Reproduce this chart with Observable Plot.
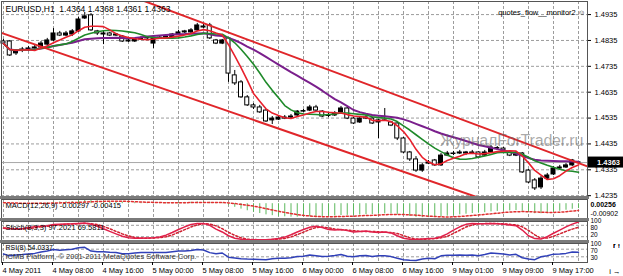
<!DOCTYPE html>
<html><head><meta charset="utf-8">
<script src="https://cdn.jsdelivr.net/npm/d3@7"></script>
<script src="https://cdn.jsdelivr.net/npm/@observablehq/plot@0.6"></script>
<style>
body{margin:0;background:#fff;}
#chart{position:relative;width:623px;height:276px;overflow:hidden;background:#fff;font-family:"Liberation Sans",Arial,sans-serif;}
#chart svg{position:absolute;left:0;}
.sep{position:absolute;left:0;width:589px;background:#7a7a7a;}
.wm{position:absolute;left:440px;top:132px;font-size:16px;color:rgba(95,95,95,0.55);white-space:nowrap;letter-spacing:-0.2px;}
</style></head><body><div id="chart"></div>
<script>
// ---- candles (EURUSD H1, 4 May 2011 00:00 ... 9 May 2011) ----
const open = [1.4831,1.4831,1.4785,1.4796,1.4800,1.4804,1.4808,1.4819,1.4835,1.4862,1.4854,1.4858,1.4870,1.4920,1.4932,1.4870,1.4858,1.4862,1.4858,1.4850,1.4835,1.4831,1.4839,1.4843,1.4823,1.4843,1.4850,1.4846,1.4858,1.4870,1.4866,1.4874,1.4889,1.4893,1.4835,1.4823,1.4843,1.4700,1.4673,1.4615,1.4584,1.4576,1.4564,1.4526,1.4529,1.4537,1.4537,1.4545,1.4560,1.4564,1.4576,1.4560,1.4545,1.4545,1.4557,1.4572,1.4533,1.4518,1.4533,1.4533,1.4518,1.4526,1.4518,1.4514,1.4456,1.4402,1.4375,1.4332,1.4359,1.4371,1.4352,1.4390,1.4398,1.4398,1.4402,1.4398,1.4402,1.4390,1.4402,1.4417,1.4417,1.4402,1.4390,1.4398,1.4332,1.4294,1.4267,1.4301,1.4317,1.4340,1.4344,1.4352,1.4364];
const high = [1.4839,1.4835,1.4800,1.4808,1.4812,1.4816,1.4831,1.4843,1.4881,1.4870,1.4870,1.4877,1.4924,1.4943,1.4939,1.4874,1.4870,1.4866,1.4862,1.4854,1.4843,1.4843,1.4850,1.4850,1.4846,1.4854,1.4854,1.4862,1.4874,1.4874,1.4881,1.4901,1.4897,1.4901,1.4839,1.4839,1.4846,1.4719,1.4680,1.4622,1.4591,1.4584,1.4568,1.4541,1.4541,1.4545,1.4549,1.4564,1.4568,1.4584,1.4584,1.4564,1.4553,1.4560,1.4580,1.4576,1.4537,1.4537,1.4545,1.4537,1.4529,1.4572,1.4522,1.4518,1.4460,1.4406,1.4386,1.4359,1.4371,1.4375,1.4398,1.4406,1.4406,1.4410,1.4406,1.4410,1.4404,1.4410,1.4429,1.4425,1.4421,1.4406,1.4406,1.4402,1.4336,1.4301,1.4309,1.4321,1.4348,1.4352,1.4359,1.4375,1.4368];
const low = [1.4819,1.4773,1.4777,1.4788,1.4792,1.4796,1.4804,1.4808,1.4831,1.4850,1.4850,1.4850,1.4866,1.4916,1.4870,1.4854,1.4819,1.4850,1.4850,1.4827,1.4827,1.4827,1.4835,1.4835,1.4804,1.4839,1.4843,1.4843,1.4854,1.4862,1.4862,1.4870,1.4881,1.4839,1.4819,1.4819,1.4673,1.4661,1.4611,1.4580,1.4568,1.4553,1.4518,1.4510,1.4526,1.4529,1.4533,1.4541,1.4557,1.4560,1.4560,1.4537,1.4537,1.4541,1.4553,1.4529,1.4510,1.4514,1.4529,1.4510,1.4456,1.4522,1.4502,1.4448,1.4398,1.4367,1.4325,1.4325,1.4355,1.4348,1.4348,1.4386,1.4390,1.4394,1.4390,1.4394,1.4379,1.4386,1.4398,1.4410,1.4406,1.4386,1.4386,1.4321,1.4282,1.4255,1.4259,1.4297,1.4313,1.4336,1.4340,1.4348,1.4361];
const close = [1.4823,1.4777,1.4792,1.4800,1.4804,1.4808,1.4823,1.4835,1.4862,1.4854,1.4862,1.4870,1.4916,1.4928,1.4874,1.4862,1.4862,1.4854,1.4854,1.4831,1.4831,1.4839,1.4843,1.4846,1.4843,1.4846,1.4846,1.4858,1.4866,1.4866,1.4874,1.4893,1.4885,1.4843,1.4823,1.4835,1.4707,1.4669,1.4615,1.4584,1.4576,1.4557,1.4522,1.4533,1.4537,1.4533,1.4541,1.4560,1.4562,1.4576,1.4564,1.4541,1.4543,1.4553,1.4572,1.4533,1.4514,1.4533,1.4537,1.4514,1.4526,1.4524,1.4506,1.4456,1.4402,1.4375,1.4332,1.4352,1.4363,1.4352,1.4390,1.4398,1.4396,1.4402,1.4398,1.4402,1.4383,1.4402,1.4421,1.4419,1.4410,1.4390,1.4398,1.4325,1.4286,1.4263,1.4301,1.4313,1.4340,1.4344,1.4352,1.4371,1.4363];

// trend channel (bar index, price)
const upperChannel = [{i: 20, p: 1.5010}, {i: 95, p: 1.4334}];
const lowerChannel = [{i: -1, p: 1.4870}, {i: 80, p: 1.4194}];

// moving average periods
const maPeriods = [21, 10, 5];
const maColors = ["#7a1f8c", "#1f8a2a", "#e8202c"];

// ---- indicators ----
const macdMain = [0.0004,0.0002,0.0001,0.0001,0.0002,0.0003,0.0005,0.0007,0.0010,0.0011,0.0012,0.0013,0.0018,0.0022,0.0020,0.0018,0.0016,0.0014,0.0012,0.0009,0.0007,0.0006,0.0005,0.0005,0.0005,0.0005,0.0005,0.0006,0.0007,0.0008,0.0009,0.0011,0.0012,0.0009,0.0005,0.0003,-0.0012,-0.0022,-0.0033,-0.0043,-0.0052,-0.0060,-0.0068,-0.0073,-0.0077,-0.0080,-0.0082,-0.0082,-0.0081,-0.0079,-0.0078,-0.0078,-0.0077,-0.0075,-0.0072,-0.0071,-0.0071,-0.0069,-0.0067,-0.0066,-0.0064,-0.0062,-0.0062,-0.0065,-0.0071,-0.0077,-0.0083,-0.0085,-0.0085,-0.0084,-0.0080,-0.0076,-0.0072,-0.0068,-0.0064,-0.0060,-0.0058,-0.0055,-0.0050,-0.0047,-0.0045,-0.0044,-0.0042,-0.0046,-0.0054,-0.0061,-0.0061,-0.0058,-0.0052,-0.0046,-0.0040,-0.0034,-0.00297];
const macdSignal = [0.0006,0.0005,0.0004,0.0003,0.0003,0.0003,0.0003,0.0003,0.0004,0.0005,0.0006,0.0007,0.0008,0.0010,0.0012,0.0013,0.0014,0.0015,0.0015,0.0015,0.0014,0.0012,0.0010,0.0009,0.0008,0.0007,0.0006,0.0006,0.0006,0.0006,0.0007,0.0008,0.0008,0.0008,0.0008,0.0007,0.0005,0.0001,-0.0004,-0.0009,-0.0015,-0.0022,-0.0030,-0.0038,-0.0046,-0.0053,-0.0060,-0.0066,-0.0071,-0.0075,-0.0078,-0.0079,-0.0079,-0.0079,-0.0078,-0.0077,-0.0076,-0.0074,-0.0072,-0.0071,-0.0069,-0.0067,-0.0066,-0.0065,-0.0066,-0.0068,-0.0070,-0.0073,-0.0076,-0.0078,-0.0080,-0.0081,-0.0080,-0.0078,-0.0075,-0.0072,-0.0069,-0.0065,-0.0062,-0.0058,-0.0054,-0.0051,-0.0049,-0.0048,-0.0049,-0.0050,-0.0052,-0.0053,-0.0053,-0.0052,-0.0049,-0.0045,-0.00415];
const stochMain = [65,62,60,62,68,72,75,78,84,86,87,88,90,92,86,75,62,48,35,22,15,12,12,13,14,18,28,42,58,72,84,90,90,80,60,45,25,12,6,4,4,4,4,6,10,18,30,45,58,70,75,68,58,55,58,52,45,48,50,45,42,45,40,25,12,6,5,8,10,12,20,35,55,72,85,90,88,88,90,88,86,82,78,55,25,10,8,20,38,55,72,86,97.2];
const stochSignal = [66,64,62,61,63,67,72,75,79,83,86,87,88,90,89,84,74,62,48,35,24,16,13,12,13,15,20,29,43,57,71,82,88,87,77,62,43,27,14,7,5,4,4,5,7,11,19,31,44,58,68,71,67,60,57,55,52,48,48,48,46,44,42,37,26,14,8,6,8,10,14,22,37,54,71,82,88,89,89,89,88,85,82,72,53,30,12,13,22,35,48,60,69.6];
const rsi = [45,35,40,42,45,48,55,60,68,64,67,70,78,80,60,56,57,54,53,46,46,50,52,52,52,53,53,57,60,60,63,68,66,52,46,50,28,24,20,18,17,16,14,20,22,22,25,32,33,40,36,32,33,37,42,33,30,36,37,32,35,35,31,22,15,12,10,18,22,20,35,38,38,40,38,40,35,42,50,48,45,40,43,25,18,15,30,36,44,45,48,55,54.03];

// ---- axes / labels ----
const priceTicks = [1.4235,1.4335,1.4435,1.4535,1.4635,1.4735,1.4835,1.4935];
const timeIdx = [0,8,16,24,32,40,48,56,64,72,80,88];
const timeLabels = ["4 May 2011","4 May 08:00","4 May 16:00","5 May 00:00","5 May 08:00","5 May 16:00","6 May 00:00","6 May 08:00","6 May 16:00","9 May 01:00","9 May 09:00","9 May 17:00"];
const gridIdx = d3.range(0, 93, 4);
const macdTicks = [0.00256, -0.00902];
const macdTickLabels = ["0.00256", "-0.00902"];
const stochLevels = [80, 20];
const rsiLevels = [70, 30];
const headerText = "EURUSD,H1\u00a0\u00a01.4364 1.4368 1.4361 1.4363";
const expertText = "quotes_flow__monitor2 \u263a";
const macdText = "MACD(12,26,9) -0.00297 -0.00415";
const stochText = "Stoch(8,3,3) 97.2021 69.5811";
const rsiText = "RSI(8) 54.0337";
const copyText = "ICMB Platform, \u00a9 2001-2011 MetaQuotes Software Corp.";
const watermark = "ЖурналForTrader.ru";

// ---- build ----
const bars = open.map((o, i) => ({i, open: o, high: high[i], low: low[i], close: close[i]}));
const ind = macdMain.map((m, i) => ({i, m, s: macdSignal[i], k: stochMain[i], d: stochSignal[i], r: rsi[i]}));
const last = bars[bars.length - 1];
const xDomain = [-0.32, 93.44];
const font = "Liberation Sans, Arial, sans-serif";
const baseStyle = {fontFamily: font, fontSize: "7.5px", background: "transparent", overflow: "visible", color: "#000"};
const grid = {stroke: "#9c9c9c", strokeOpacity: 1, strokeDasharray: "3,2"};
const common = {width: 623, marginLeft: 1, marginRight: 36};

const chart = document.getElementById("chart");

const price = Plot.plot({
  ...common, height: 198, marginTop: 1, marginBottom: 2,
  x: {domain: xDomain, axis: null},
  y: {domain: [1.42318, 1.49856], axis: null},
  style: baseStyle,
  marks: [
    Plot.gridX(gridIdx, grid),
    Plot.gridY(priceTicks, grid),
    Plot.ruleY([last.close], {stroke: "#a8a8a8"}),
    Plot.ruleX(bars, {x: "i", y1: "low", y2: "high", stroke: "#000"}),
    Plot.rect(bars, {x1: d => d.i - 0.32, x2: d => d.i + 0.32, y1: "open", y2: "close",
      fill: d => d.close > d.open ? "#000" : "#fff", stroke: "#000"}),
    ...maPeriods.map((k, j) => Plot.lineY(bars, Plot.windowY({k, anchor: "end", strict: false},
      {x: "i", y: "close", stroke: maColors[j], strokeWidth: j === 0 ? 2 : 1.6}))),
    Plot.line(upperChannel, {x: "i", y: "p", stroke: "#e0262a", strokeWidth: 2, clip: true}),
    Plot.line(lowerChannel, {x: "i", y: "p", stroke: "#e0262a", strokeWidth: 2, clip: true}),
    Plot.frame({stroke: "#555"}),
    Plot.axisY(priceTicks, {anchor: "right", tickSize: 3, tickPadding: 4, tickFormat: d => d.toFixed(4), fontSize: 7.5}),
    Plot.text([headerText], {frameAnchor: "top-left", dx: 4, dy: 4, lineAnchor: "top", textAnchor: "start", fontSize: 8.5}),
    Plot.text([expertText], {frameAnchor: "top-right", dx: -2, dy: 8, lineAnchor: "top", textAnchor: "end", fontSize: 7.5})
  ]
});
price.style.top = "0px";
chart.appendChild(price);
// bid price tag
{
  const ys = price.scale("y"), xs = price.scale("x");
  const y = ys.apply(last.close), x0 = xs.apply(xDomain[1]) + 1;
  const g = d3.select(price).append("g");
  g.append("rect").attr("x", x0).attr("y", y - 5.5).attr("width", 623 - x0).attr("height", 11).attr("fill", "#000");
  g.append("text").attr("x", 620).attr("y", y).attr("dy", "0.35em").attr("text-anchor", "end").attr("fill", "#fff")
    .style("font-size", "7.5px").style("font-family", font).style("font-weight", "bold").text(last.close.toFixed(4));
}

const macd = Plot.plot({
  ...common, height: 24, marginTop: 3, marginBottom: 2,
  x: {domain: xDomain, axis: null},
  y: {domain: [-0.00902, 0.00256], axis: null},
  style: baseStyle,
  marks: [
    Plot.gridX(gridIdx, grid),
    Plot.ruleX(ind, {x: "i", y1: 0, y2: "m", stroke: "#5cb85c", strokeWidth: 1}),
    Plot.line(ind, {x: "i", y: "s", stroke: "#e03030", strokeDasharray: "2,2"}),
    Plot.frame({stroke: "#555"}),
    Plot.axisY([macdTicks[0]], {anchor: "right", tickSize: 0, tickPadding: 3, dy: 5, tickFormat: () => macdTickLabels[0], fontSize: 7, fontWeight: "bold"}),
    Plot.axisY([macdTicks[1]], {anchor: "right", tickSize: 0, tickPadding: 3, dy: -5, tickFormat: () => macdTickLabels[1], fontSize: 7}),
    Plot.text([macdText], {frameAnchor: "top-left", dx: 4, dy: 3, lineAnchor: "top", textAnchor: "start", fontSize: 7.5})
  ]
});
macd.style.top = "196px";
chart.appendChild(macd);

const stoch = Plot.plot({
  ...common, height: 24, marginTop: 3, marginBottom: 2,
  x: {domain: xDomain, axis: null},
  y: {domain: [0, 100], axis: null},
  style: baseStyle,
  marks: [
    Plot.gridX(gridIdx, grid),
    Plot.gridY(stochLevels, grid),
    Plot.line(ind, {x: "i", y: "d", stroke: "#d02030", strokeDasharray: "2,2"}),
    Plot.line(ind, {x: "i", y: "k", stroke: "#e0204a"}),
    Plot.frame({stroke: "#555"}),
    Plot.axisY([stochLevels[0]], {anchor: "right", tickSize: 0, tickPadding: 3, dy: 2.5, fontSize: 6.5}),
    Plot.axisY([stochLevels[1]], {anchor: "right", tickSize: 0, tickPadding: 3, dy: -1.5, fontSize: 6.5}),
    Plot.axisY([100], {anchor: "right", tickSize: 0, tickPadding: 3, dy: -1, fontSize: 6.5}),
    Plot.text([stochText], {frameAnchor: "top-left", dx: 4, dy: 3, lineAnchor: "top", textAnchor: "start", fontSize: 7.5})
  ]
});
stoch.style.top = "218px";
chart.appendChild(stoch);

const rsiPlot = Plot.plot({
  ...common, height: 36, marginTop: 3, marginBottom: 14,
  x: {domain: xDomain, axis: null},
  y: {domain: [0, 100], axis: null},
  style: baseStyle,
  marks: [
    Plot.gridX(gridIdx, grid),
    Plot.gridY(rsiLevels, grid),
    Plot.line(ind, {x: "i", y: "r", stroke: "#3040b8"}),
    Plot.frame({stroke: "#555"}),
    Plot.axisY([rsiLevels[0]], {anchor: "right", tickSize: 0, tickPadding: 3, dy: 2, fontSize: 6.5}),
    Plot.axisY([rsiLevels[1]], {anchor: "right", tickSize: 0, tickPadding: 3, dy: 1, fontSize: 6.5}),
    Plot.axisY([100], {anchor: "right", tickSize: 0, tickPadding: 3, dy: 0.5, fontSize: 6.5}),
    Plot.axisX(timeIdx, {anchor: "bottom", tickSize: 3, tickPadding: 2, textAnchor: "start", dx: -1,
      tickFormat: d => timeLabels[timeIdx.indexOf(d)], fontSize: 7.5}),
    Plot.text([rsiText], {frameAnchor: "top-left", dx: 4, dy: 2, lineAnchor: "top", textAnchor: "start", fontSize: 7}),
    Plot.text([copyText], {frameAnchor: "top-left", dx: 4, dy: 10, lineAnchor: "top", textAnchor: "start", fontSize: 7.5, fill: "#333"})
  ]
});
rsiPlot.style.top = "240px";
chart.appendChild(rsiPlot);

// panel separators
[[196, 3], [218, 3], [240, 3]].forEach(([t, h]) => {
  const d = document.createElement("div"); d.className = "sep"; d.style.top = t + "px"; d.style.height = h + "px"; chart.appendChild(d);
});
const wm = document.createElement("div"); wm.className = "wm"; wm.textContent = watermark; chart.appendChild(wm);
</script></body></html>
